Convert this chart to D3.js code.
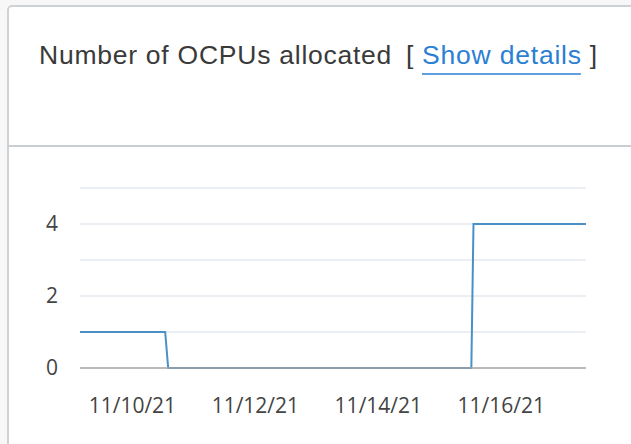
<!DOCTYPE html>
<html>
<head>
<meta charset="utf-8">
<script src="https://cdn.jsdelivr.net/npm/d3@7"></script>
<style>
  html, body { margin: 0; padding: 0; background: #f7f7f7; }
  svg { display: block; }
</style>
</head>
<body>
<svg id="chart" width="631" height="444"></svg>
<script>
// OCPU allocation samples (timestamp, allocated OCPUs)
const sampleTimes = [
  "2021-11-09T03:45",
  "2021-11-10T13:00",
  "2021-11-10T14:10",
  "2021-11-15T12:30",
  "2021-11-15T13:20",
  "2021-11-17T09:15"
];
const ocpuValues = [1, 1, 0, 0, 4, 4];

// Axis ticks
const xTickDates = ["2021-11-10", "2021-11-12", "2021-11-14", "2021-11-16"];
const yGridValues = [0, 1, 2, 3, 4, 5];
const yLabelValues = [0, 2, 4];

const titleText = "Number of OCPUs allocated";
const linkText = "Show details";

const parseTime = d3.timeParse("%Y-%m-%dT%H:%M");
const parseDay = d3.timeParse("%Y-%m-%d");
const data = sampleTimes.map((t, i) => ({ t: parseTime(t), v: ocpuValues[i] }));

const svg = d3.select("#chart");
const W = 631, H = 444;

// Card panel with header separator
svg.append("rect")
  .attr("x", 8).attr("y", 6)
  .attr("width", W + 20).attr("height", H + 20)
  .attr("rx", 4)
  .attr("fill", "#ffffff")
  .attr("stroke", "#cdd2d7")
  .attr("stroke-width", 2);

svg.append("line")
  .attr("x1", 8).attr("x2", W)
  .attr("y1", 146).attr("y2", 146)
  .attr("stroke", "#c9ced4")
  .attr("stroke-width", 2);

// Header: title and details link
const header = svg.append("g")
  .style("font-family", "'Liberation Sans', Arial, sans-serif")
  .style("font-size", "26.5px");

header.append("text")
  .attr("x", 39).attr("y", 64)
  .attr("fill", "#3a3a3a")
  .style("letter-spacing", "0.75px")
  .text(titleText);

header.append("text")
  .attr("x", 406).attr("y", 64)
  .attr("fill", "#3a3a3a")
  .text("[");

const link = header.append("text")
  .attr("x", 422).attr("y", 64)
  .attr("fill", "#2b7fd4")
  .style("letter-spacing", "0.8px")
  .text(linkText);

const linkBox = link.node().getBBox();
header.append("line")
  .attr("x1", linkBox.x).attr("x2", linkBox.x + linkBox.width - 1)
  .attr("y1", 74).attr("y2", 74)
  .attr("stroke", "#2b7fd4")
  .attr("stroke-width", 1.5);

header.append("text")
  .attr("x", linkBox.x + linkBox.width + 8).attr("y", 64)
  .attr("fill", "#3a3a3a")
  .text("]");

// Plot area
const x = d3.scaleTime()
  .domain(d3.extent(data, d => d.t))
  .range([80, 586]);

const y = d3.scaleLinear()
  .domain([0, 5])
  .range([368, 188]);

// Horizontal gridlines
svg.append("g")
  .selectAll("line")
  .data(yGridValues.filter(v => v !== 0))
  .join("line")
  .attr("x1", x.range()[0]).attr("x2", x.range()[1])
  .attr("y1", d => y(d)).attr("y2", d => y(d))
  .attr("stroke", "#e5e9ee")
  .attr("stroke-width", 1.5);

// Y axis labels
const yAxis = svg.append("g")
  .attr("transform", `translate(${x.range()[0]},0)`)
  .call(d3.axisLeft(y)
    .tickValues(yLabelValues)
    .tickFormat(d3.format("d"))
    .tickSize(0)
    .tickPadding(22));
yAxis.select(".domain").remove();
yAxis.selectAll("text")
  .style("font-family", "'Open Sans', 'Noto Sans', sans-serif")
  .style("font-size", "21px")
  .attr("fill", "#444");

// X axis labels
const xAxis = svg.append("g")
  .attr("transform", `translate(0,${y(0)})`)
  .call(d3.axisBottom(x)
    .tickValues(xTickDates.map(parseDay))
    .tickFormat(d3.timeFormat("%m/%d/%y"))
    .tickSize(0)
    .tickPadding(30));
xAxis.select(".domain").remove();
xAxis.selectAll("text")
  .style("font-family", "'Open Sans', 'Noto Sans', sans-serif")
  .style("font-size", "21px")
  .attr("fill", "#444");

// Series line
svg.append("path")
  .datum(data)
  .attr("fill", "none")
  .attr("stroke", "#4a90c6")
  .attr("stroke-width", 2)
  .attr("d", d3.line().x(d => x(d.t)).y(d => y(d.v)));

// Zero baseline
svg.append("line")
  .attr("x1", x.range()[0]).attr("x2", x.range()[1])
  .attr("y1", y(0)).attr("y2", y(0))
  .attr("stroke", "#a3a3a3")
  .attr("stroke-width", 1.5);
</script>
</body>
</html>
